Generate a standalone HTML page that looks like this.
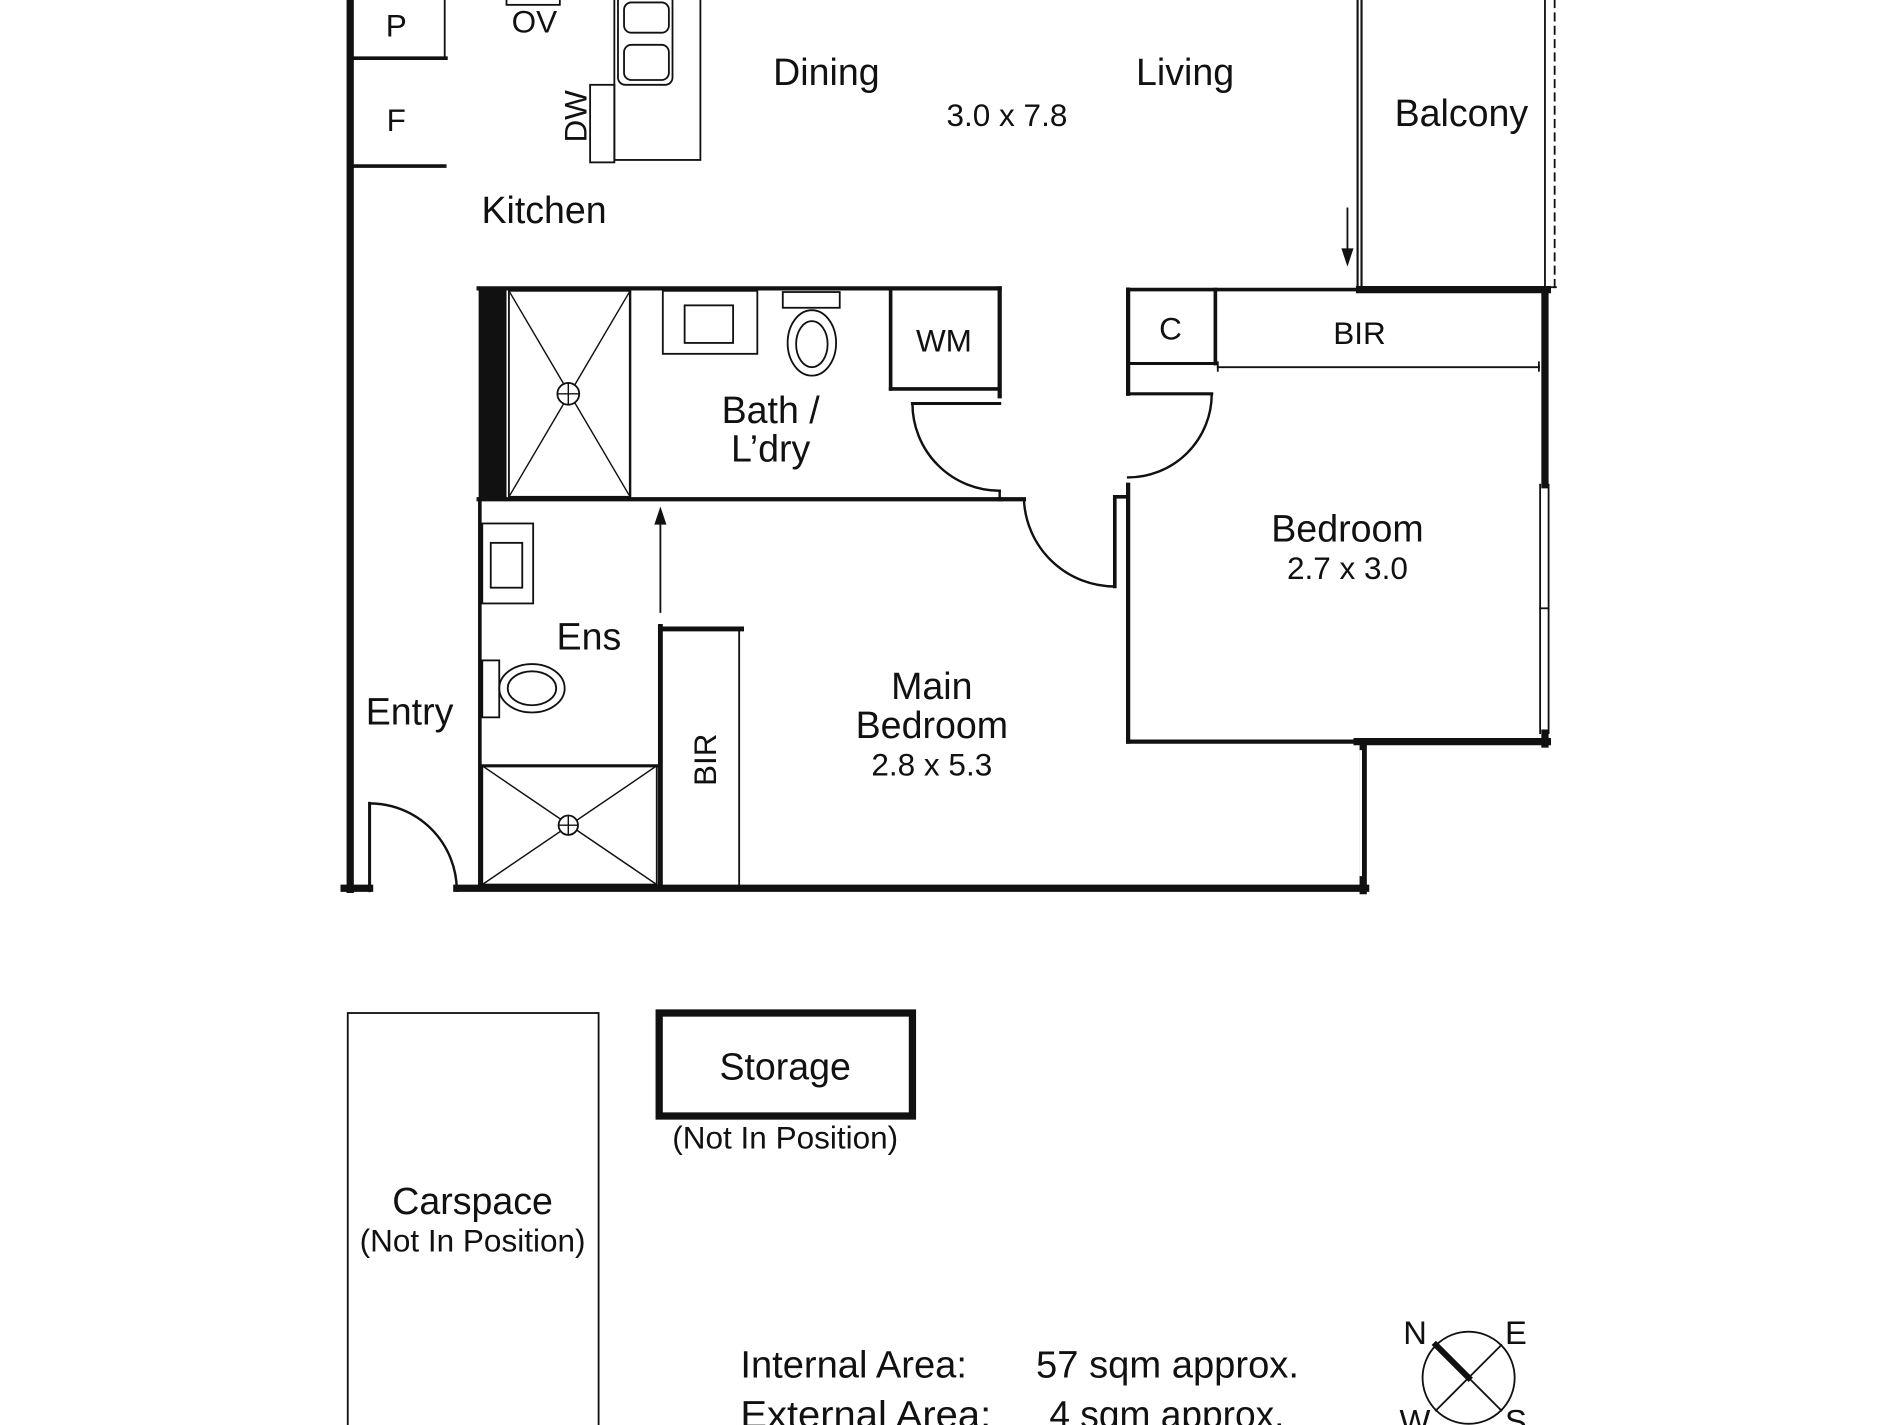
<!DOCTYPE html>
<html><head><meta charset="utf-8"><style>
html,body{margin:0;padding:0;background:#fff;width:1900px;height:1425px;overflow:hidden}
svg{display:block}
text{font-family:"Liberation Sans",Arial,sans-serif;fill:#111}
</style></head><body>
<svg width="1900" height="1425" viewBox="0 0 1568 1176" xmlns="http://www.w3.org/2000/svg">
<g stroke="#111" fill="none" stroke-linecap="square">
<line x1="289" y1="0" x2="289" y2="734" stroke-width="6"/>
<line x1="284" y1="733" x2="305" y2="733" stroke-width="6"/>
<line x1="305" y1="663" x2="305" y2="735" stroke-width="2.5"/>
<path d="M305 663 A72 72 0 0 1 377 735" stroke-width="2"/>
<line x1="377" y1="733" x2="1127" y2="733" stroke-width="6"/>
<line x1="1125" y1="612" x2="1125" y2="735" stroke-width="6"/>
<line x1="1123" y1="620" x2="1123" y2="722" stroke="#fff" stroke-width="2"/>
<line x1="292" y1="48" x2="368" y2="48" stroke-width="3"/>
<line x1="367" y1="0" x2="367" y2="48" stroke-width="1.5"/>
<line x1="292" y1="137" x2="367" y2="137" stroke-width="3"/>
<rect x="418" y="-5" width="44" height="9" stroke-width="1.5"/>
<rect x="507" y="-5" width="71" height="137" stroke-width="1.5"/>
<rect x="510" y="-5" width="45" height="75" rx="6" stroke-width="1.5"/>
<rect x="515" y="2" width="37" height="25" rx="6" stroke-width="1.5"/>
<rect x="515" y="37" width="37" height="29" rx="6" stroke-width="1.5"/>
<rect x="487" y="84" width="20" height="64" stroke-width="1.5" transform="translate(0,-14)"/>
<line x1="1122" y1="0" x2="1122" y2="237" stroke-width="5"/>
<line x1="1122" y1="0" x2="1122" y2="237" stroke="#fff" stroke-width="1.5"/>
<line x1="1275" y1="0" x2="1275" y2="237" stroke-width="1.5"/>
<line x1="1283" y1="0" x2="1283" y2="237" stroke-width="1.5" stroke-dasharray="6 5"/>
<line x1="1275" y1="237" x2="1284" y2="237" stroke-width="1.5"/>
<line x1="1112" y1="172" x2="1112" y2="214" stroke-width="1.5"/>
<line x1="931" y1="239" x2="1122" y2="239" stroke-width="3"/>
<line x1="1122" y1="239" x2="1277" y2="239" stroke-width="6"/>
<line x1="1275" y1="239" x2="1275" y2="400" stroke-width="6"/>
<line x1="1271" y1="400" x2="1271" y2="605" stroke-width="1.5"/>
<line x1="1278" y1="400" x2="1278" y2="605" stroke-width="1.5"/>
<line x1="1271" y1="502" x2="1278" y2="502" stroke-width="1.5"/>
<line x1="1120" y1="612" x2="1277" y2="612" stroke-width="6"/>
<line x1="1275" y1="605" x2="1275" y2="614" stroke-width="6"/>
<line x1="931" y1="612" x2="1122" y2="612" stroke-width="3.5"/>
<line x1="931" y1="400" x2="931" y2="612" stroke-width="3.5"/>
<line x1="931" y1="239" x2="931" y2="325" stroke-width="3.5"/>
<line x1="1003" y1="239" x2="1003" y2="300" stroke-width="3"/>
<line x1="931" y1="300" x2="1003" y2="300" stroke-width="2.5"/>
<line x1="1005" y1="303" x2="1270" y2="303" stroke-width="1.5"/>
<line x1="1005" y1="299" x2="1005" y2="306" stroke-width="1.5"/>
<line x1="1270" y1="299" x2="1270" y2="306" stroke-width="1.5"/>
<line x1="931" y1="325" x2="1000" y2="325" stroke-width="2.5"/>
<path d="M1000 325 A69 69 0 0 1 931 394" stroke-width="2"/>
<rect x="395" y="238" width="23" height="174" fill="#111" stroke="none"/>
<line x1="395" y1="238" x2="825" y2="238" stroke-width="3.5"/>
<line x1="825" y1="238" x2="825" y2="327" stroke-width="3.5"/>
<line x1="735" y1="238" x2="735" y2="321" stroke-width="3"/>
<line x1="735" y1="321" x2="825" y2="321" stroke-width="3"/>
<line x1="753" y1="333" x2="825" y2="333" stroke-width="2.5"/>
<path d="M753 333 A72 72 0 0 0 825 405" stroke-width="2"/>
<line x1="395" y1="412" x2="825" y2="412" stroke-width="3.5"/>
<line x1="825" y1="405" x2="825" y2="412" stroke-width="2"/>
<line x1="825" y1="412" x2="845" y2="412" stroke-width="3.5"/>
<rect x="420" y="240" width="100" height="170" stroke-width="1.5"/>
<line x1="420" y1="240" x2="520" y2="410" stroke-width="1.2"/>
<line x1="520" y1="240" x2="420" y2="410" stroke-width="1.2"/>
<circle cx="469" cy="325" r="9" fill="#fff" stroke-width="1.5"/>
<line x1="460" y1="325" x2="478" y2="325" stroke-width="1.2"/>
<line x1="469" y1="316" x2="469" y2="334" stroke-width="1.2"/>
<line x1="520" y1="240" x2="520" y2="410" stroke-width="2"/>
<rect x="547" y="240" width="78" height="52" stroke-width="1.5"/>
<rect x="565" y="252" width="40" height="31" stroke-width="1.5"/>
<rect x="646" y="241" width="47" height="13" stroke-width="1.5"/>
<ellipse cx="670" cy="283" rx="20" ry="27" stroke-width="1.5"/>
<ellipse cx="670" cy="284" rx="13" ry="19" stroke-width="1.5"/>
<path d="M845 412 A75 75 0 0 0 920 484" stroke-width="2"/>
<line x1="920" y1="410" x2="920" y2="484" stroke-width="3"/>
<line x1="920" y1="410" x2="931" y2="410" stroke-width="3"/>
<line x1="396" y1="412" x2="396" y2="733" stroke-width="3"/>
<rect x="398" y="432" width="42" height="66" stroke-width="1.5"/>
<rect x="405" y="448" width="26" height="37" stroke-width="1.5"/>
<line x1="545" y1="425" x2="545" y2="505" stroke-width="1.5"/>
<path d="M540 433 L545 418 L550 433 Z" fill="#111" stroke="none"/>
<path d="M1107 205 L1112 220 L1117 205 Z" fill="#111" stroke="none"/>
<rect x="398" y="545" width="14" height="47" stroke-width="1.5"/>
<ellipse cx="439" cy="568" rx="27" ry="20" stroke-width="1.5"/>
<ellipse cx="439" cy="568" rx="20" ry="14" stroke-width="1.5"/>
<rect x="398" y="632" width="144" height="98" stroke-width="1.5"/>
<line x1="398" y1="632" x2="542" y2="730" stroke-width="1.2"/>
<line x1="542" y1="632" x2="398" y2="730" stroke-width="1.2"/>
<circle cx="469" cy="681" r="8" fill="#fff" stroke-width="1.5"/>
<line x1="461" y1="681" x2="477" y2="681" stroke-width="1.2"/>
<line x1="469" y1="673" x2="469" y2="689" stroke-width="1.2"/>
<line x1="398" y1="632" x2="542" y2="632" stroke-width="2.5"/>
<line x1="545" y1="517" x2="545" y2="733" stroke-width="4"/>
<line x1="545" y1="519" x2="612" y2="519" stroke-width="4"/>
<line x1="610" y1="519" x2="610" y2="733" stroke-width="1.5"/>
<rect x="287" y="836" width="207" height="360" stroke-width="1.5"/>
<rect x="544" y="836" width="209" height="85" stroke-width="6"/>
<circle cx="1212" cy="1137" r="38" stroke-width="1.5"/>
<line x1="1185" y1="1110" x2="1239" y2="1164" stroke-width="1.5"/>
<line x1="1239" y1="1110" x2="1185" y2="1164" stroke-width="1.5"/>
<line x1="1185" y1="1110" x2="1212" y2="1137" stroke-width="5"/>
</g>
<g font-size="31" text-anchor="middle">
<text x="682" y="70">Dining</text>
<text x="978" y="70">Living</text>
<text x="1206" y="104">Balcony</text>
<text x="449" y="184">Kitchen</text>
<text x="636" y="349">Bath /</text>
<text x="636" y="381">L’dry</text>
<text x="1112" y="447">Bedroom</text>
<text x="486" y="536">Ens</text>
<text x="338" y="598">Entry</text>
<text x="769" y="577">Main</text>
<text x="769" y="609">Bedroom</text>
<text x="648" y="891">Storage</text>
<text x="390" y="1002">Carspace</text>
</g>
<g font-size="26" text-anchor="middle">
<text x="327" y="30">P</text>
<text x="327" y="108">F</text>
<text x="441" y="27">OV</text>
<text x="779" y="290">WM</text>
<text x="966" y="280">C</text>
<text x="1122" y="284">BIR</text>
<text x="831" y="104">3.0 x 7.8</text>
<text x="1112" y="478">2.7 x 3.0</text>
<text x="769" y="640">2.8 x 5.3</text>
<text x="648" y="948">(Not In Position)</text>
<text x="390" y="1033">(Not In Position)</text>
<text transform="translate(484,96) rotate(-90)">DW</text>
<text transform="translate(591,627) rotate(-90)">BIR</text>
</g>
<g font-size="31">
<text x="611" y="1137" textLength="187" lengthAdjust="spacingAndGlyphs">Internal Area:</text>
<text x="855" y="1137" textLength="217" lengthAdjust="spacingAndGlyphs">57 sqm approx.</text>
<text x="611" y="1178" textLength="207" lengthAdjust="spacingAndGlyphs">External  Area:</text>
<text x="866" y="1178" textLength="194" lengthAdjust="spacingAndGlyphs">4 sqm approx.</text>
</g>
<g font-size="27">
<text x="1158" y="1109">N</text>
<text x="1242" y="1109">E</text>
<text x="1155" y="1182">W</text>
<text x="1242" y="1182">S</text>
</g>
</svg>
</body></html>
